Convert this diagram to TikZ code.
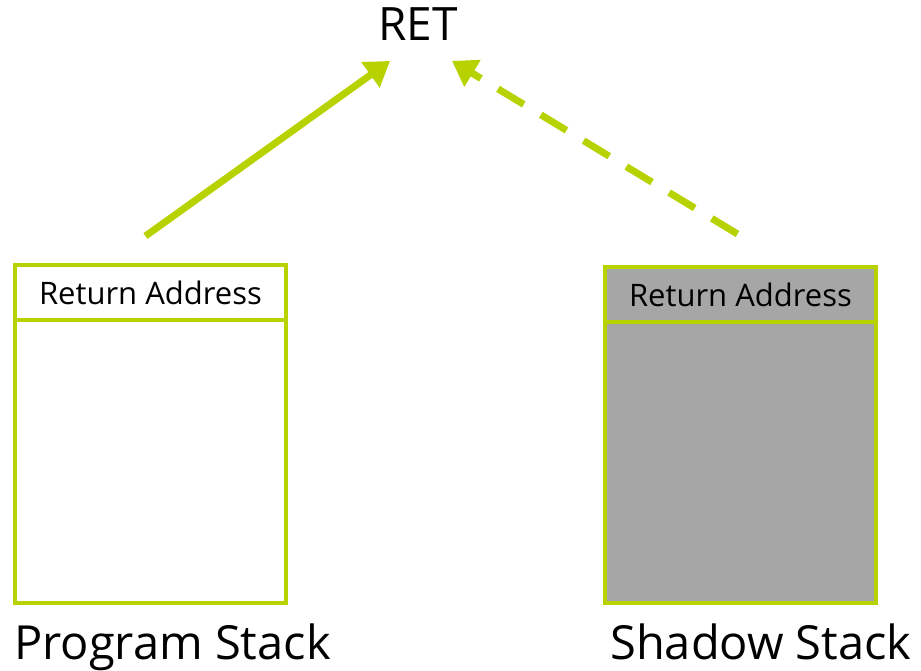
\documentclass[tikz,border=0pt]{standalone}
\usepackage{fontspec}
\setmainfont{Open Sans}
\usetikzlibrary{arrows.meta, positioning}
\definecolor{lime}{HTML}{B8D200}
\definecolor{shade}{HTML}{A6A6A6}

\begin{document}
\begin{tikzpicture}[x=1pt, y=-1pt, line join=miter,
  stackbox/.style={draw=lime, line width=4pt, minimum width=271pt, inner sep=0pt, outer sep=0pt},
  link/.style={draw=lime, line width=7pt, -{Triangle[length=24pt, width=30pt]}}]
  \useasboundingbox (0,0) rectangle (921,671);

  % Ziel
  \node[font=\fontsize{46}{46}\selectfont] (ret) at (418,24) {RET};

  % Program Stack
  \node[stackbox, minimum height=55pt, anchor=north west, font=\fontsize{31}{31}\selectfont] (proghead) at (15,265) {Return Address};
  \node[stackbox, minimum height=283pt, anchor=north] (progbody) at (proghead.south) {};
  \node[anchor=north west, inner sep=0pt, font=\fontsize{47}{47}\selectfont] (proglabel) at (14,624) {Program Stack};

  % Shadow Stack
  \node[stackbox, fill=shade, minimum height=55pt, anchor=north west, font=\fontsize{31}{31}\selectfont] (shadowhead) at (605,267) {Return Address};
  \node[stackbox, fill=shade, minimum height=281pt, anchor=north] (shadowbody) at (shadowhead.south) {};
  \node[anchor=north west, inner sep=0pt, font=\fontsize{47}{47}\selectfont] (shadowlabel) at (610,624) {Shadow Stack};

  % Pfeile
  \draw[link] ([xshift=-5pt, yshift=29pt]proghead.north) -- ([xshift=-28pt, yshift=-17pt]ret.south);
  \draw[link, dash pattern=on 30pt off 20pt] ([xshift=-3pt, yshift=33pt]shadowhead.north) -- ([xshift=34pt, yshift=-17pt]ret.south);
\end{tikzpicture}
\end{document}
